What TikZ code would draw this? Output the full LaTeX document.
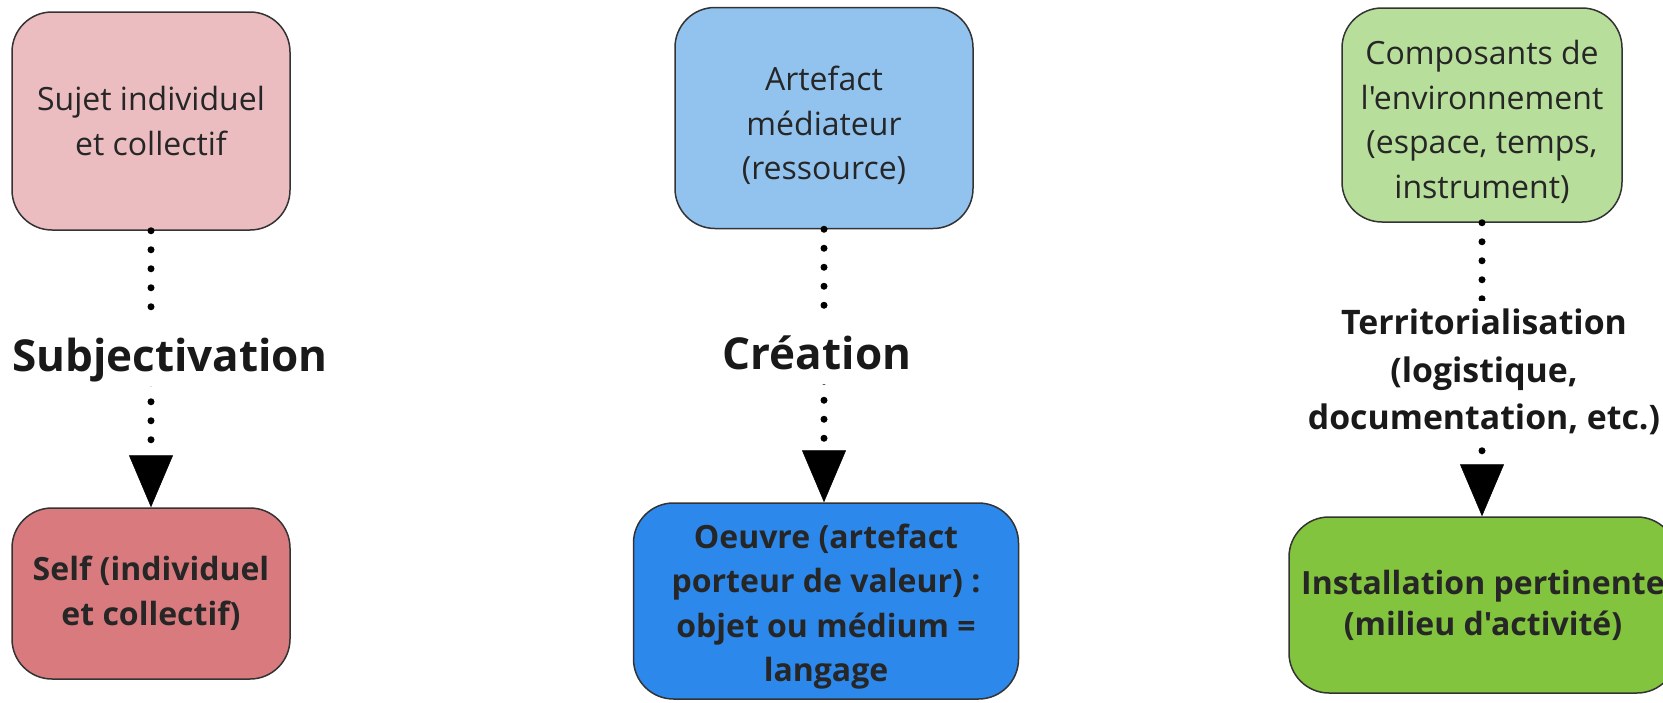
\documentclass[tikz,border=0pt]{standalone}
\usepackage{fontspec}
\setmainfont{Open Sans}[Ligatures=TeXOff]
\usetikzlibrary{arrows.meta}
\definecolor{pinkL}{HTML}{EBBDC0}
\definecolor{pinkD}{HTML}{D97B7E}
\definecolor{blueL}{HTML}{92C3EF}
\definecolor{blueD}{HTML}{2C88EB}
\definecolor{greenL}{HTML}{B8DE9B}
\definecolor{greenD}{HTML}{83C43E}
\definecolor{txt}{HTML}{262626}
\tikzset{
  box/.style={draw=black!80, line width=1.5pt, rounded corners=40pt, align=center,
    text=txt, font=\fontsize{32}{44.5}\selectfont, inner sep=0pt},
  boldbox/.style={box, font=\fontsize{32}{44.5}\selectfont\bfseries},
  biglabel/.style={font=\fontsize{44}{52}\selectfont\bfseries, text=black!90, fill=white,
    inner sep=0pt, text height=53pt, text depth=15pt, anchor=base},
  midlabel/.style={font=\fontsize{33.8}{47.5}\selectfont\bfseries, text=black!90, fill=white,
    align=center, inner sep=8pt},
  dotline/.style={line width=7pt, line cap=round, dash pattern=on 0pt off 19pt, black},
  arr/.style={dotline, -{Triangle[width=44pt,length=52pt,line width=0.5pt]}}
}
\begin{document}
\begin{tikzpicture}[x=1pt,y=-1pt]
\useasboundingbox (0,0) rectangle (1663,702);
\clip (0,0) rectangle (1663,702);
% boxes
\node[box, fill=pinkL, minimum width=278pt, minimum height=218pt] (b1) at (151,121) {Sujet individuel\\et collectif};
\node[boldbox, fill=pinkD, minimum width=278pt, minimum height=171pt] (b2) at (151,593.5) {Self (individuel\\et collectif)};
\node[box, fill=blueL, minimum width=298pt, minimum height=221pt] (b3) at (824,118) {\rule{0pt}{40pt}Artefact\\médiateur\\(ressource)};
\node[boldbox, fill=blueD, minimum width=385pt, minimum height=196pt] (b4) at (826,601) {\rule{0pt}{36pt}Oeuvre (artefact\\porteur de valeur) :\\objet ou médium =\\langage};
\node[box, fill=greenL, minimum width=280pt, minimum height=214pt] (b5) at (1482,115) {\rule{0pt}{38pt}Composants de\\l'environnement\\(espace, temps,\\instrument)};
\node[boldbox, fill=greenD, minimum width=388pt, minimum height=176pt, font=\fontsize{32}{41}\selectfont\bfseries] (b6) at (1483,605) {Installation pertinente\\(milieu d'activité)};
% connectors
\draw[arr] (b1.south) -- (b2.north);
\draw[arr] (b3.south) -- (b4.north -| b3.south);
\draw[arr] (b5.south) -- (b6.north -| b5.south);
% labels over the connectors
\node[biglabel] (l1) at (170,371) {Subjectivation};
\node[biglabel] (l2) at (817,369) {Création};
\node[midlabel] (l3) at (1484,372) {Territorialisation\\(logistique,\\documentation, etc.)};
\end{tikzpicture}
\end{document}
